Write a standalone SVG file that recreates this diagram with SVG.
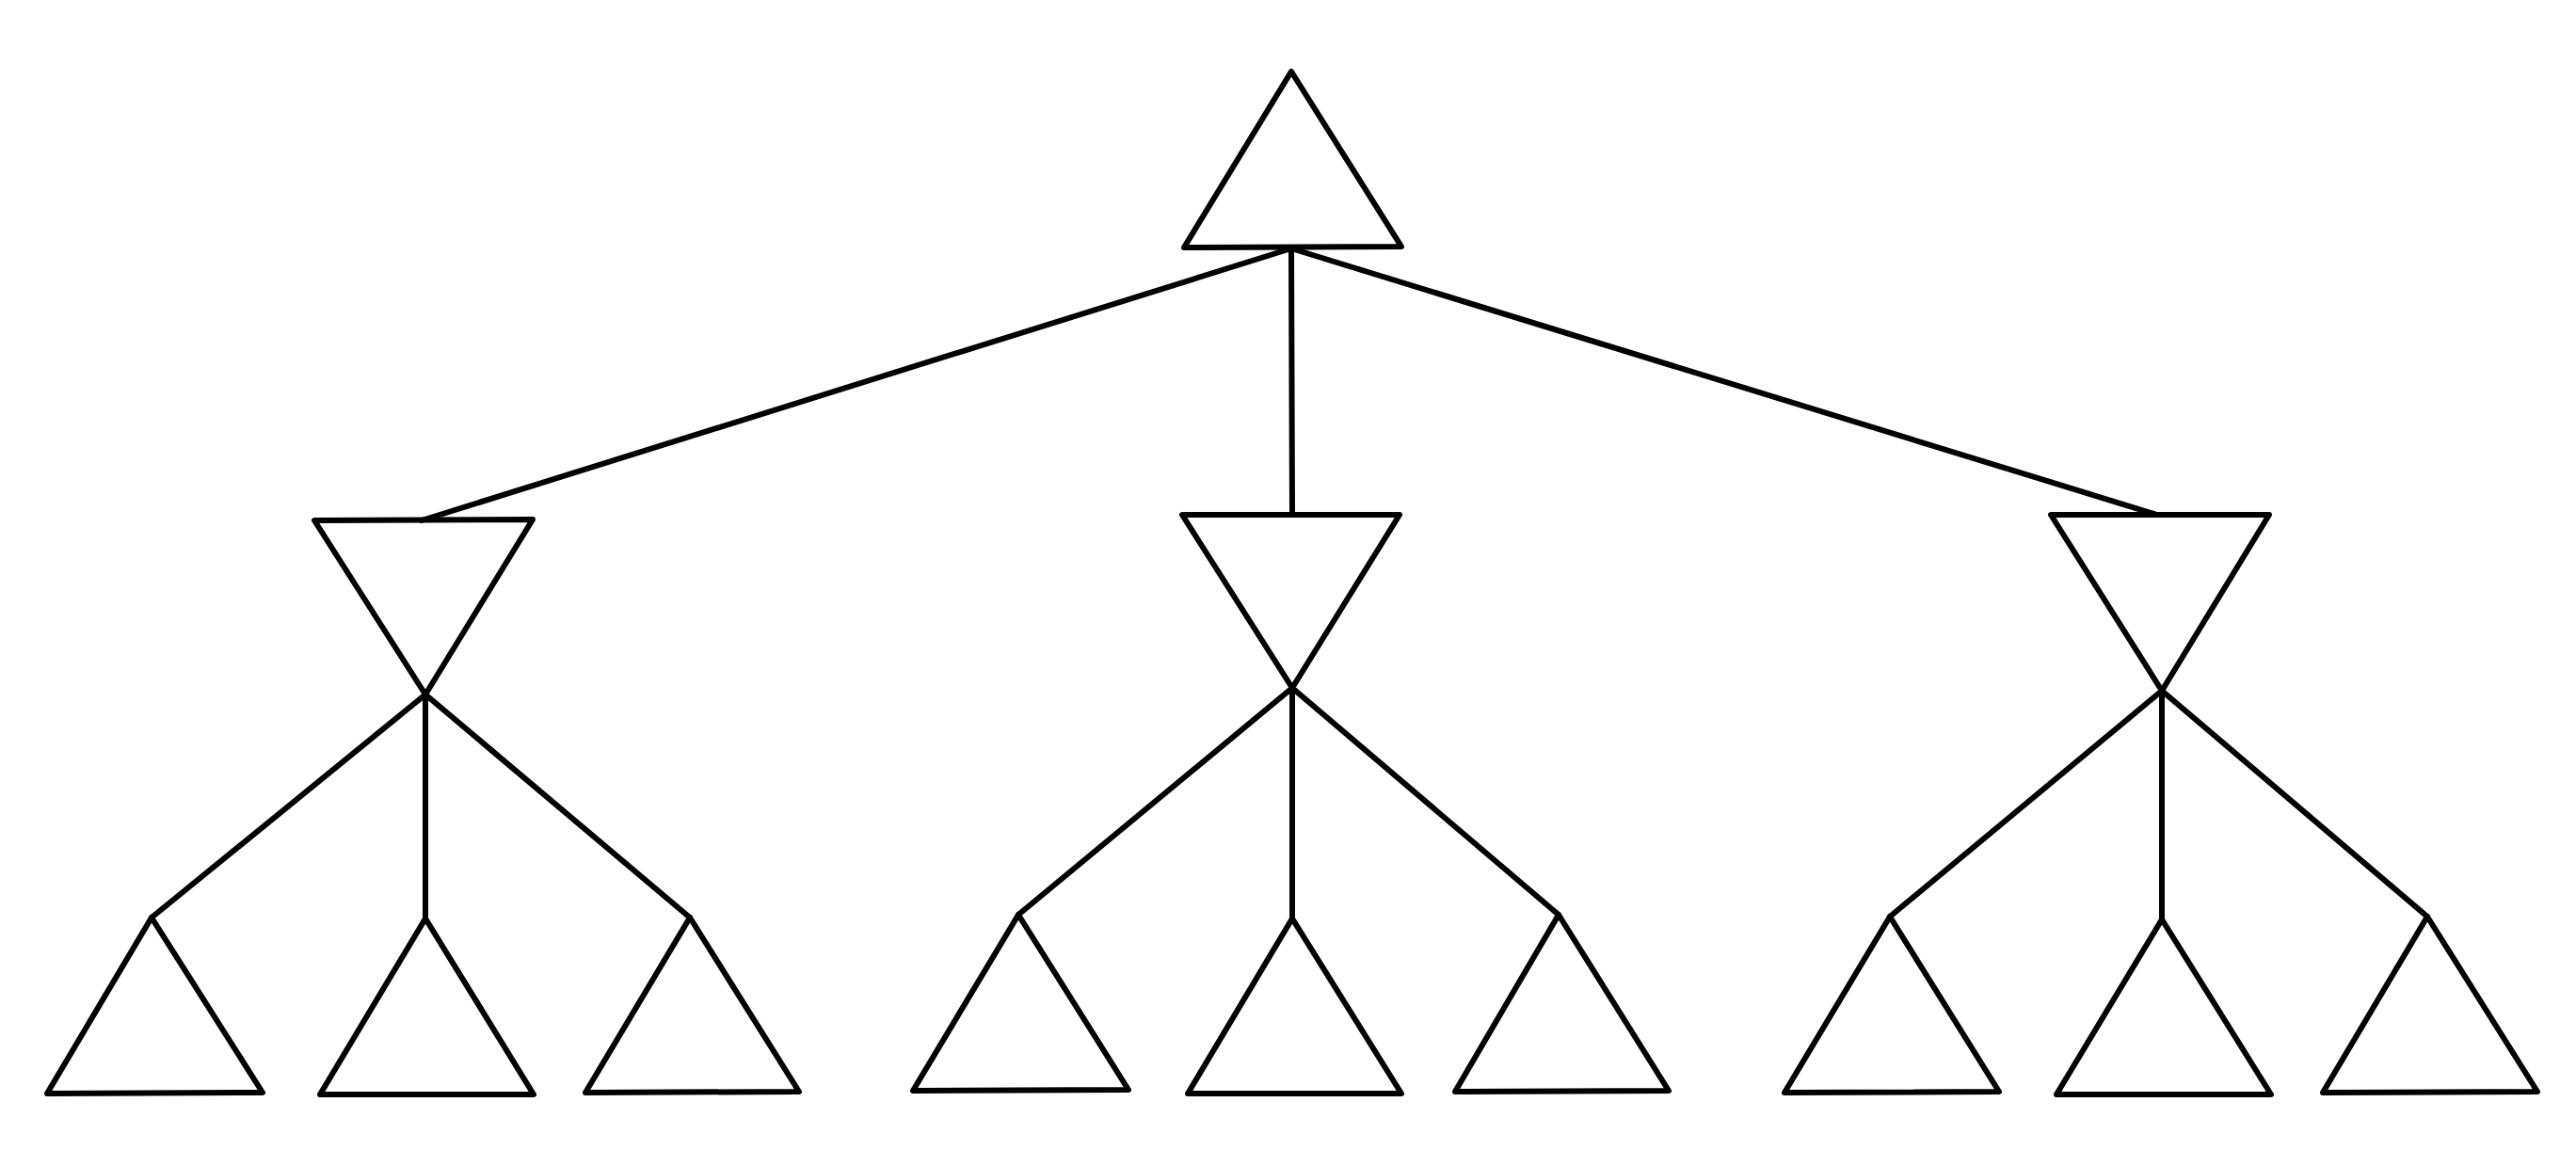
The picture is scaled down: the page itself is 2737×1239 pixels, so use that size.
<svg xmlns="http://www.w3.org/2000/svg" width="2737" height="1239" viewBox="0 0 2737 1239">
<style>
.n{fill:none;stroke:#000;stroke-width:6;stroke-linejoin:round}
.c{fill:none;stroke:#000;stroke-width:6;stroke-linecap:round}
</style>
<rect width="2737" height="1239" fill="#fff"/>
<g id="connectors">
<line class="c" x1="1372" y1="264" x2="448" y2="553"/>
<line class="c" x1="1372" y1="264" x2="1373" y2="547"/>
<line class="c" x1="1372" y1="264" x2="2292" y2="547"/>
<line class="c" x1="452" y1="738" x2="161" y2="975"/>
<line class="c" x1="452" y1="738" x2="452" y2="976"/>
<line class="c" x1="452" y1="738" x2="733" y2="975"/>
<line class="c" x1="1373" y1="731" x2="1082" y2="972"/>
<line class="c" x1="1373" y1="731" x2="1373" y2="976"/>
<line class="c" x1="1373" y1="731" x2="1656" y2="972"/>
<line class="c" x1="2297" y1="734" x2="2008" y2="974"/>
<line class="c" x1="2297" y1="734" x2="2297" y2="977"/>
<line class="c" x1="2297" y1="734" x2="2579" y2="974"/>
</g>
<g id="root"><polygon class="n" points="1372,76 1489,262 1258,263"/></g>
<g id="mid-left"><polygon class="n" points="334,553 566,552 452,738"/></g>
<g id="mid-center"><polygon class="n" points="1256,547 1487,547 1373,731"/></g>
<g id="mid-right"><polygon class="n" points="2179,547 2411,547 2297,734"/></g>
<g id="leaf-1"><polygon class="n" points="161,975 279,1161 50,1162"/></g>
<g id="leaf-2"><polygon class="n" points="452,976 567,1163 340,1163"/></g>
<g id="leaf-3"><polygon class="n" points="733,975 849,1160 622,1161"/></g>
<g id="leaf-4"><polygon class="n" points="1082,972 1199,1158 970,1159"/></g>
<g id="leaf-5"><polygon class="n" points="1373,976 1489,1162 1262,1162"/></g>
<g id="leaf-6"><polygon class="n" points="1656,972 1773,1159 1546,1160"/></g>
<g id="leaf-7"><polygon class="n" points="2008,974 2124,1160 1896,1161"/></g>
<g id="leaf-8"><polygon class="n" points="2297,977 2413,1163 2185,1163"/></g>
<g id="leaf-9"><polygon class="n" points="2579,974 2696,1160 2468,1161"/></g>
</svg>
